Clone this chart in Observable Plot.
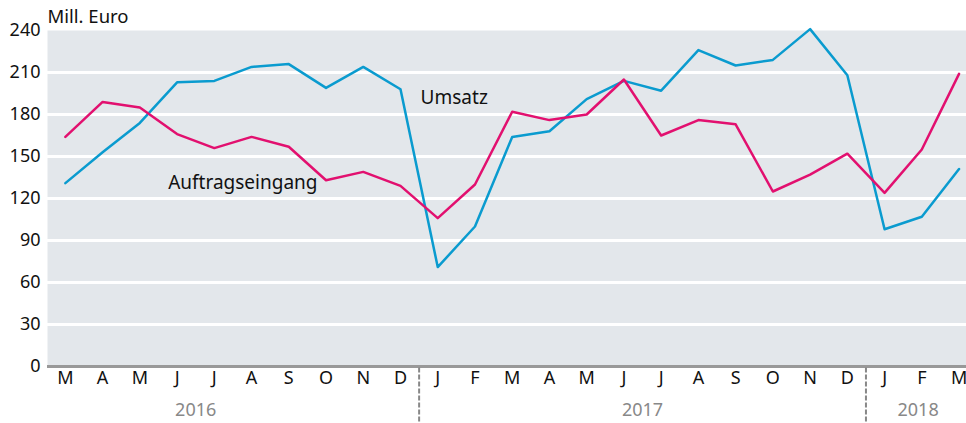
<!DOCTYPE html>
<html><head><meta charset="utf-8">
<script src="https://cdn.jsdelivr.net/npm/d3@7"></script>
<script src="https://cdn.jsdelivr.net/npm/@observablehq/plot@0.6"></script>
<style>body{margin:0;background:#fff} svg{display:block}</style>
</head><body><div id="chart"></div>
<script>
const months = ["M","A","M","J","J","A","S","O","N","D","J","F","M","A","M","J","J","A","S","O","N","D","J","F","M"];
const umsatz = [131,153,174,203,204,214,216,199,214,198,71,100,164,168,191,204,197,226,215,219,241,208,98,107,141];
const auftrag = [164,189,185,166,156,164,157,133,139,129,106,130,182,176,180,205,165,176,173,125,137,152,124,155,209];
const yTicks = [0,30,60,90,120,150,180,210,240];
const years = ["2016","2017","2018"];
const yearPos = [3.5,15.5,22.9];
const separators = [9.5,21.5];
const seriesNames = ["Umsatz","Auftragseingang"];
const seriesColors = ["#0a9bcf","#e2106f"];
const labelPos = [{name:"Umsatz", x:9.54, y:192},{name:"Auftragseingang", x:2.76, y:131}];

const rows = [];
months.forEach((m,i)=>{
  rows.push({i, value: umsatz[i], series: "Umsatz"});
  rows.push({i, value: auftrag[i], series: "Auftragseingang"});
});
const yearRows = years.map((y,k)=>({label:y, pos:yearPos[k]}));
const font = "'Source Sans Pro', 'Noto Sans', sans-serif";

const chart = Plot.plot({
  width: 966, height: 423,
  marginLeft: 47, marginRight: 0, marginTop: 30, marginBottom: 57,
  style: {fontFamily: font, fontSize: "18px", color: "#111", background: "#fff"},
  x: {type: "linear", domain: [-0.48, 24.2], axis: null},
  y: {domain: [0, 240], axis: null},
  color: {domain: seriesNames, range: seriesColors},
  marks: [
    Plot.frame({fill: "#e3e7eb", stroke: "none"}),
    Plot.ruleY(yTicks.filter(d => d > 0 && d < 240), {stroke: "white", strokeWidth: 3}),
    Plot.ruleY([0], {stroke: "#999", strokeWidth: 3}),
    Plot.line(rows, {x: "i", y: "value", z: "series", stroke: "series", strokeWidth: 2.5}),
    Plot.axisY(yTicks, {tickSize: 0, tickPadding: 7, fontSize: 18, label: null}),
    Plot.axisX(d3.range(months.length), {tickSize: 0, tickPadding: 5, fontSize: 18, tickFormat: i => months[i], label: null}),
    Plot.ruleX(separators, {y1: -1, y2: -42, stroke: "#888", strokeWidth: 2, strokeDasharray: "5,2"}),
    Plot.text(yearRows, {x: "pos", y: -31.5, text: "label", fill: "#888", fontSize: 18}),
    Plot.text(labelPos, {x: "x", y: "y", text: "name", textAnchor: "start", fontSize: 19, fill: "#111"}),
    Plot.text(["Mill. Euro"], {x: -0.48, y: 240, dy: -13, text: d => d, textAnchor: "start", fontSize: 18.5, fill: "#111"})
  ]
});
document.getElementById("chart").appendChild(chart);
</script>
</body></html>
